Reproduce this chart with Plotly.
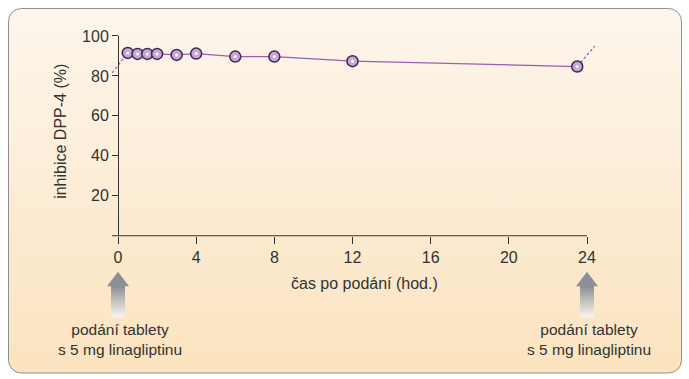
import base64
import plotly.graph_objects as go

# ---- data ----
time_h = [0.5, 1, 1.5, 2, 3, 4, 6, 8, 12, 23.5]
inhibition = [91.5, 91, 91, 91, 90.5, 91.2, 89.7, 89.7, 87.4, 84.7]
pre_dose_t = [-0.3, 0.5]
pre_dose_v = [81.5, 91.5]
post_dose_t = [23.5, 24.4]
post_dose_v = [84.7, 95]
dose_times = [0, 24]
dose_label = "podání tablety<br>s 5 mg linagliptinu"
x_ticks = [0, 4, 8, 12, 16, 20, 24]
y_ticks = [20, 40, 60, 80, 100]
x_title = "čas po podání (hod.)"
y_title = "inhibice DPP-4 (%)"

# ---- layout geometry (pixels) ----
W, H = 689, 379
PX0, PX24 = 118, 587          # pixel of x=0 and x=24
SCALE = (PX24 - PX0) / 24.0
PL, PR = 104, 602             # plot area left/right
PY0, PY100 = 235, 35          # pixel of y=0 and y=100
VA, VB = 7.0, 0.98            # observed vertical offset/scale of the page capture

def ly(py):
    return (py - VA) / VB

def fx(px):
    return px / W

def fy(py):
    return 1 - ly(py) / H

xmin = (PL - PX0) / SCALE
xmax = (PR - PX0) / SCALE

FONT = "Liberation Sans, Arial, Helvetica, sans-serif"
TXT = "#333333"
LINE_C = "#9b5cb6"

top_b, bot_b = ly(7.5), ly(372.5)
svg = f'''<svg xmlns="http://www.w3.org/2000/svg" width="{W}" height="{H}" viewBox="0 0 {W} {H}" preserveAspectRatio="none">
<defs><linearGradient id="g" x1="0" y1="0" x2="0" y2="1">
<stop offset="0" stop-color="#fdf6ec"/><stop offset="1" stop-color="#fbe3bf"/></linearGradient></defs>
<rect x="8.5" y="{top_b:.1f}" width="673" height="{bot_b - top_b:.1f}" rx="13" ry="13" fill="url(#g)" stroke="#8e8e8e" stroke-width="1"/></svg>'''
bg_src = "data:image/svg+xml;base64," + base64.b64encode(svg.encode()).decode()

fig = go.Figure()

# dashed extrapolations
fig.add_trace(go.Scatter(x=pre_dose_t, y=pre_dose_v, mode="lines",
                         line=dict(color=LINE_C, width=1.2, dash="3px,2px"),
                         hoverinfo="skip", showlegend=False))
fig.add_trace(go.Scatter(x=post_dose_t, y=post_dose_v, mode="lines",
                         line=dict(color=LINE_C, width=1.2, dash="3px,2px"),
                         hoverinfo="skip", showlegend=False))
# main series
fig.add_trace(go.Scatter(x=time_h, y=inhibition, mode="lines+markers",
                         line=dict(color=LINE_C, width=1.2),
                         marker=dict(size=11, color="#c8a4dd",
                                     line=dict(color="#3b2a48", width=1.5)),
                         cliponaxis=False, showlegend=False))
fig.add_trace(go.Scatter(x=time_h, y=inhibition, mode="markers",
                         marker=dict(size=3, color="#ffffff"),
                         cliponaxis=False, hoverinfo="skip", showlegend=False))

shapes = []
# x axis line
shapes.append(dict(type="line", xref="x", yref="paper",
                   x0=(112 - PX0) / SCALE, x1=24, y0=fy(PY0), y1=fy(PY0),
                   line=dict(color="#333333", width=1)))

# dose arrows (gradient body + head)
n = 15
top_c = (0x8c, 0x90, 0x96)
bot_c = (0xf6, 0xf1, 0xea)
body_top, body_bot = 285, 316
for t in dose_times:
    for i in range(n):
        f = i / (n - 1)
        c = tuple(int(round(top_c[k] + (bot_c[k] - top_c[k]) * f)) for k in range(3))
        y_a = body_top + (body_bot - body_top) * i / n
        y_b = body_top + (body_bot - body_top) * (i + 1) / n + 0.6
        shapes.append(dict(type="rect", xref="x", yref="paper",
                           xsizemode="pixel", xanchor=t, x0=-7, x1=7,
                           y0=fy(y_a), y1=fy(y_b), layer="above",
                           fillcolor="rgb(%d,%d,%d)" % c, line=dict(width=0)))
    shapes.append(dict(type="path", xref="x", yref="paper",
                       xsizemode="pixel", xanchor=t,
                       path=f"M -11,{fy(285.5)} L 0,{fy(271)} L 11,{fy(285.5)} Z",
                       fillcolor="rgb(%d,%d,%d)" % top_c, line=dict(width=0)))

annotations = []
for t in dose_times:
    annotations.append(dict(x=t, y=fy(339), xref="x", yref="paper", text=dose_label,
                            showarrow=False, xanchor="center", yanchor="middle",
                            xshift=2, font=dict(size=15.5, color=TXT, family=FONT)))
annotations.append(dict(x=fx(364), y=fy(283), xref="paper", yref="paper", text=x_title,
                        showarrow=False, xanchor="center", yanchor="middle",
                        font=dict(size=16, color=TXT, family=FONT)))
annotations.append(dict(x=fx(61), y=fy(131), xref="paper", yref="paper", text=y_title,
                        showarrow=False, xanchor="center", yanchor="middle", textangle=-90,
                        font=dict(size=16, color=TXT, family=FONT)))

fig.update_layout(
    width=W, height=H, margin=dict(l=0, r=0, t=0, b=0),
    paper_bgcolor="white", plot_bgcolor="rgba(0,0,0,0)",
    font=dict(family=FONT, color=TXT, size=16),
    showlegend=False,
    images=[dict(source=bg_src, xref="paper", yref="paper", x=0, y=1,
                 sizex=1, sizey=1, xanchor="left", yanchor="top",
                 sizing="stretch", layer="below")],
    shapes=shapes, annotations=annotations,
    xaxis=dict(domain=[fx(PL), fx(PR)], range=[xmin, xmax],
               tickvals=x_ticks, ticks="outside", ticklen=7, tickcolor="#333333",
               showline=False, zeroline=False, showgrid=False,
               tickfont=dict(size=16, color=TXT, family=FONT)),
    yaxis=dict(domain=[fy(PY0), fy(PY100)], range=[0, 100],
               anchor="free", position=fx(PX0),
               tickvals=y_ticks, ticks="outside", ticklen=6, tickcolor="#333333",
               showline=True, linecolor="#333333", linewidth=1,
               zeroline=False, showgrid=False,
               tickfont=dict(size=16, color=TXT, family=FONT)),
)

fig.write_html(
    "out.html",
    config={"displayModeBar": False},
    post_script=(
        "document.body.style.margin='0';document.body.style.padding='0';"
        "document.documentElement.style.overflow='hidden';"
        "var d=document.getElementById('{plot_id}');"
        "d.style.position='fixed';d.style.top='0px';d.style.left='0px';"
    ),
)
